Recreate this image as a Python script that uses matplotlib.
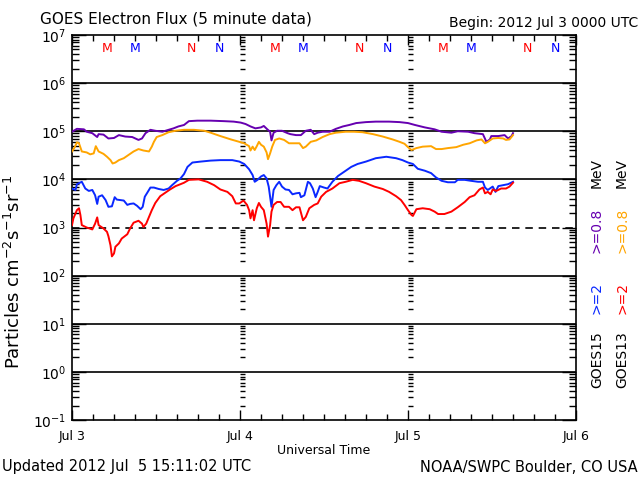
import matplotlib
matplotlib.use("Agg")
import matplotlib.pyplot as plt
import numpy as np
from matplotlib.ticker import FixedLocator, FixedFormatter, NullFormatter

# Hours since 2012 Jul 3 00:00 UTC, readings as log10 of the flux
g15_e08_hours = [0.0, 0.7, 1.7, 2.1, 2.9, 3.6, 3.8, 4.5, 5.2, 6.0, 6.7, 7.6, 8.6, 9.5, 10.0, 10.5, 11.2, 11.9, 12.9, 13.8, 14.5, 15.2, 16.0,
                 16.7, 17.9, 19.8, 21.7, 23.1, 24.1, 24.8, 25.5, 26.2, 27.0, 27.4, 27.9, 28.3, 28.5, 28.8, 29.3, 30.0, 30.8, 31.2, 32.0,
                 32.7, 33.4, 34.1, 34.6, 35.1, 35.8, 36.8, 37.7, 38.7, 39.6, 40.6, 42.0, 43.4, 45.3, 46.8, 48.0,
                 49.0, 50.4, 51.8, 52.8, 54.2, 55.1, 56.6, 57.5, 58.7, 59.2, 59.7, 59.9, 60.9, 61.8, 62.3, 62.8, 63.0]
g15_e08_log = [4.99, 5.05, 5.04, 4.99, 4.96, 4.88, 4.94, 4.93, 4.85, 4.86, 4.92, 4.89, 4.88, 4.82, 4.85, 4.96, 5.03, 5.01, 4.99, 5.03, 5.06, 5.10, 5.13,
               5.21, 5.22, 5.22, 5.21, 5.20, 5.18, 5.15, 5.10, 5.06, 5.08, 5.11, 5.04, 4.99, 4.81, 4.97, 5.01, 5.01, 4.96, 4.94, 4.92,
               4.92, 5.01, 5.03, 4.94, 4.97, 4.99, 4.99, 5.05, 5.10, 5.13, 5.17, 5.19, 5.20, 5.20, 5.19, 5.17,
               5.13, 5.08, 5.04, 4.99, 4.97, 5.00, 4.99, 4.96, 4.94, 4.78, 4.83, 4.90, 4.90, 4.92, 4.85, 4.90, 4.96]

g13_e08_hours = [0.0, 0.4, 0.7, 1.0, 1.4, 2.1, 2.6, 3.1, 3.4, 3.8, 4.5, 5.0, 5.5, 5.8, 6.2, 6.7, 7.4, 8.1, 8.8, 9.5, 10.2, 11.0, 11.4, 11.7, 12.1, 12.9, 13.8, 14.8, 16.0,
                 17.4, 18.9, 19.8, 21.2, 22.7, 23.9, 24.6, 25.3, 25.5, 25.8, 26.1, 26.4, 26.7, 27.0, 27.4, 27.8, 28.0, 28.3, 28.6, 29.0, 29.6, 30.3, 31.0, 32.0,
                 32.5, 33.0, 33.4, 34.1, 34.9, 35.8, 36.8, 37.7, 39.1, 40.3, 41.5, 43.0, 44.4, 45.8, 46.8, 47.5, 48.0,
                 48.5, 49.2, 50.1, 51.3, 52.0, 52.8, 53.7, 54.9, 55.9, 56.8, 57.8, 58.5, 59.0, 59.4, 60.1, 60.9, 61.6, 62.0, 62.5, 63.0]
g13_e08_log = [4.58, 4.67, 4.77, 4.75, 4.58, 4.56, 4.52, 4.54, 4.69, 4.58, 4.53, 4.47, 4.40, 4.33, 4.35, 4.40, 4.44, 4.51, 4.58, 4.63, 4.60, 4.58, 4.68, 4.78, 4.88, 4.92, 4.98, 5.01, 5.03,
               5.03, 5.01, 4.97, 4.90, 4.83, 4.78, 4.75, 4.69, 4.60, 4.68, 4.61, 4.69, 4.78, 4.72, 4.68, 4.56, 4.42, 4.54, 4.68, 4.82, 4.85, 4.82, 4.75, 4.75,
               4.75, 4.65, 4.68, 4.78, 4.81, 4.88, 4.94, 4.97, 4.99, 4.99, 4.98, 4.94, 4.89, 4.83, 4.78, 4.74, 4.67,
               4.61, 4.65, 4.68, 4.69, 4.63, 4.63, 4.65, 4.67, 4.72, 4.75, 4.81, 4.83, 4.75, 4.78, 4.85, 4.86, 4.85, 4.82, 4.83, 4.92]

g15_e2_hours = [0.0, 0.5, 0.7, 1.4, 1.9, 2.4, 2.9, 3.3, 3.6, 3.8, 4.3, 4.8, 5.2, 5.7, 6.1, 6.4, 6.9, 7.4, 7.9, 8.3, 8.8, 9.3, 9.8, 10.1, 10.4, 10.7, 11.2, 11.7, 12.4, 13.1, 13.8, 14.3, 15.0, 15.5, 16.0,
                16.5, 17.2, 18.4, 19.8, 21.2, 22.9, 23.9, 24.6, 25.3, 25.8, 26.1, 26.5, 27.0, 27.4, 27.8, 28.1, 28.3, 28.5, 28.8, 29.2, 29.6, 30.0, 30.5, 31.0, 31.5, 32.0,
                32.5, 32.7, 33.2, 33.7, 34.0, 34.4, 34.8, 35.1, 35.4, 36.0, 36.5, 37.2, 38.0, 38.9, 39.9, 40.8, 42.0, 43.4, 44.9, 46.3, 47.2, 48.0,
                48.7, 49.4, 50.4, 51.3, 52.0, 52.8, 53.7, 54.7, 55.1, 56.1, 57.0, 58.0, 58.7, 59.0, 59.4, 60.1, 60.5, 60.9, 61.6, 62.3, 63.0]
g15_e2_log = [3.81, 3.78, 3.90, 3.95, 3.81, 3.76, 3.78, 3.67, 3.49, 3.64, 3.67, 3.57, 3.43, 3.44, 3.63, 3.58, 3.57, 3.56, 3.47, 3.49, 3.50, 3.45, 3.38, 3.43, 3.64, 3.71, 3.83, 3.83, 3.80, 3.78, 3.81, 3.88, 3.97, 4.02, 4.11,
              4.26, 4.35, 4.37, 4.39, 4.40, 4.40, 4.37, 4.32, 4.21, 4.09, 3.95, 3.99, 4.06, 4.09, 4.02, 3.85, 3.64, 3.43, 3.78, 3.88, 3.95, 3.85, 3.79, 3.78, 3.69, 3.71,
              3.72, 3.63, 3.67, 3.95, 3.92, 3.81, 3.63, 3.74, 3.86, 3.83, 3.81, 3.95, 4.07, 4.16, 4.26, 4.32, 4.37, 4.44, 4.47, 4.44, 4.40, 4.35,
              4.32, 4.22, 4.18, 4.13, 4.04, 3.97, 3.94, 3.94, 3.99, 3.99, 3.97, 3.95, 3.95, 3.83, 3.78, 3.85, 3.74, 3.86, 3.88, 3.90, 3.95]

g13_e2_hours = [0.0, 0.2, 0.7, 1.0, 1.2, 1.4, 2.1, 2.9, 3.3, 3.6, 3.8, 4.5, 5.0, 5.2, 5.5, 5.7, 6.0, 6.2, 6.7, 7.1, 7.9, 8.3, 8.8, 9.5, 10.0, 10.2, 10.6, 11.0, 11.4, 11.9, 12.6, 13.3, 14.0, 14.8, 15.5, 16.0,
                16.7, 18.1, 19.3, 20.3, 21.2, 22.2, 22.9, 23.4, 23.9, 24.5, 25.0, 25.3, 25.5, 25.8, 26.0, 26.4, 26.7, 27.0, 27.4, 27.8, 28.0, 28.3, 28.5, 28.8, 29.3, 29.8, 30.3, 31.0, 31.5, 32.0,
                32.5, 33.0, 33.4, 33.9, 34.6, 35.1, 35.6, 36.3, 37.2, 38.2, 39.1, 40.1, 41.0, 42.0, 43.2, 44.4, 45.3, 46.3, 47.0, 47.5, 48.0,
                48.5, 48.7, 49.2, 50.1, 51.1, 51.8, 52.3, 53.2, 54.2, 55.1, 56.1, 56.8, 57.5, 58.2, 58.7, 59.0, 59.4, 59.8, 60.1, 60.6, 61.3, 62.0, 62.5, 63.0]
g13_e2_log = [3.05, 3.19, 3.36, 3.40, 3.26, 3.05, 3.00, 2.96, 3.08, 3.21, 3.05, 2.98, 2.91, 2.82, 2.63, 2.40, 2.46, 2.60, 2.67, 2.77, 2.86, 2.98, 3.10, 3.14, 3.08, 3.01, 3.08, 3.22, 3.36, 3.51, 3.65, 3.72, 3.79, 3.86, 3.90, 3.93,
              3.99, 4.00, 3.95, 3.88, 3.79, 3.74, 3.65, 3.50, 3.50, 3.56, 3.47, 3.36, 3.19, 3.36, 3.15, 3.40, 3.51, 3.43, 3.36, 3.08, 2.81, 3.05, 3.33, 3.47, 3.53, 3.53, 3.43, 3.43, 3.36, 3.42,
              3.42, 3.15, 3.22, 3.40, 3.47, 3.50, 3.64, 3.74, 3.81, 3.92, 3.95, 3.99, 3.97, 3.92, 3.85, 3.80, 3.74, 3.65, 3.57, 3.47, 3.36,
              3.26, 3.24, 3.38, 3.40, 3.38, 3.33, 3.28, 3.28, 3.33, 3.42, 3.53, 3.63, 3.67, 3.79, 3.83, 3.71, 3.74, 3.69, 3.79, 3.76, 3.81, 3.81, 3.85, 3.93]

# Local midnight (M) / noon (N) markers for each satellite, hour of day
marker_hours = [5.0, 9.0, 17.1, 21.1]
marker_letters = ["M", "M", "N", "N"]
marker_colors = ["#ff0000", "#0000ff", "#ff0000", "#0000ff"]

day_labels = ["Jul 3", "Jul 4", "Jul 5", "Jul 6"]
decades = [-1, 0, 1, 2, 3, 4, 5, 6, 7]

PURPLE = "#6600b0"
ORANGE = "#ffa500"
BLUE = "#0a28ff"
RED = "#ff0000"

fig = plt.figure(figsize=(6.4, 4.8), dpi=100)
ax = fig.add_axes([72 / 640, 60 / 480, 504 / 640, 385 / 480])
ax.set_yscale("log")
ax.set_xlim(0, 72)
ax.set_ylim(1e-1, 1e7)

# reference lines at each decade, dashed at 1e3
for d in [6, 5, 4, 2, 1, 0]:
    ax.axhline(10.0 ** d, color="black", lw=1.2, zorder=1)
ax.axhline(1e3, color="black", lw=1.2, ls=(0, (4.5, 3.5)), zorder=1)

# short tick columns at the day boundaries
minor_vals = [k * 10.0 ** d for d in decades[:-1] for k in range(2, 10)]
for day in [24, 48]:
    ax.hlines(minor_vals, day, day + 0.7, color="black", lw=1.0, zorder=1)

# data
ax.plot(g15_e08_hours, 10 ** np.array(g15_e08_log), color=PURPLE, lw=1.4, zorder=3)
ax.plot(g13_e08_hours, 10 ** np.array(g13_e08_log), color=ORANGE, lw=1.4, zorder=3)
ax.plot(g15_e2_hours, 10 ** np.array(g15_e2_log), color=BLUE, lw=1.4, zorder=3)
ax.plot(g13_e2_hours, 10 ** np.array(g13_e2_log), color=RED, lw=1.4, zorder=4)

# M / N markers along the top
for day in range(3):
    for h, letter, col in zip(marker_hours, marker_letters, marker_colors):
        ax.text(day * 24 + h, 0.966, letter, color=col, fontsize=9,
                ha="center", va="center", transform=ax.get_xaxis_transform())

# axes styling
for sp in ax.spines.values():
    sp.set_linewidth(1.2)

ax.yaxis.set_major_locator(FixedLocator([10.0 ** d for d in decades]))
ax.yaxis.set_major_formatter(FixedFormatter(["$10^{%d}$" % d for d in decades]))
ax.yaxis.set_minor_locator(FixedLocator(minor_vals))
ax.yaxis.set_minor_formatter(NullFormatter())

ax.xaxis.set_major_locator(FixedLocator([0, 24, 48, 72]))
ax.xaxis.set_major_formatter(FixedFormatter(day_labels))
ax.xaxis.set_minor_locator(FixedLocator(np.arange(3, 72, 3)))

ax.tick_params(which="both", direction="in", top=True, right=True, width=1.0)
ax.tick_params(axis="y", which="major", length=10, labelsize=10, pad=4)
ax.tick_params(axis="y", which="minor", length=5)
ax.tick_params(axis="x", which="major", length=7, labelsize=9, pad=7)
ax.tick_params(axis="x", which="minor", length=4)

ax.set_xlabel("Universal Time", fontsize=9, labelpad=1)
fig.text(14 / 640, 1 - 272 / 480, r"Particles cm$^{-2}$s$^{-1}$sr$^{-1}$",
         rotation=90, ha="center", va="center", fontsize=13)

# titles and footers
fig.text(40 / 640, 1 - 19 / 480, "GOES Electron Flux (5 minute data)", fontsize=11, va="center")
fig.text(638 / 640, 1 - 23 / 480, "Begin: 2012 Jul 3 0000 UTC", fontsize=10, ha="right", va="center")
fig.text(2 / 640, 1 - 467 / 480, "Updated 2012 Jul  5 15:11:02 UTC", fontsize=10.5, va="center")
fig.text(638 / 640, 1 - 467 / 480, "NOAA/SWPC Boulder, CO USA", fontsize=10.5, ha="right", va="center")

# satellite / channel legend on the right, rotated
right_labels = [
    (597, [("GOES15", "black", 360), (">=2", BLUE, 298), (">=0.8", PURPLE, 230), ("MeV", "black", 173)]),
    (622, [("GOES13", "black", 360), (">=2", RED, 298), (">=0.8", ORANGE, 230), ("MeV", "black", 173)]),
]
for xpix, pieces in right_labels:
    for txt, col, ypix in pieces:
        fig.text(xpix / 640, 1 - ypix / 480, txt, color=col, rotation=90,
                 ha="center", va="center", fontsize=10)

fig.savefig("out.png", dpi=100)
